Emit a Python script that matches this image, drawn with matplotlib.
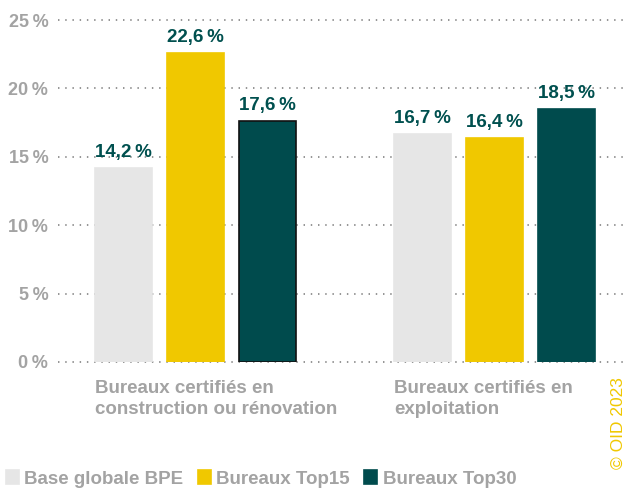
import matplotlib.pyplot as plt
import numpy as np

plt.rcParams['font.family'] = ['Liberation Sans', 'DejaVu Sans']

# data
categories = ["Bureaux certifiés en\nconstruction ou rénovation",
              "Bureaux certifiés en\nexploitation"]
series_names = ["Base globale BPE", "Bureaux Top15", "Bureaux Top30"]
base_bpe = [14.2, 16.7]
top15 = [22.6, 16.4]
top30 = [17.6, 18.5]
yticks = [0, 5, 10, 15, 20, 25]

colors = ["#e6e6e6", "#f0c800", "#004b4d"]
label_col = "#00504f"
grey_txt = "#a3a3a3"
NS = "\u202f"  # narrow space before %

fig = plt.figure(figsize=(6.24, 4.92), dpi=100)
W, H = 624, 492
ax = fig.add_axes([58 / W, (H - 362) / H, 1 - 58 / W, 342 / H])
ax.set_xlim(-0.46, 1.433)
ax.set_ylim(0, 25)

# dotted grid
for t in yticks:
    ax.axhline(t, color="#8c8c8c", lw=1.3, ls=(0, (0.8, 3.2)), zorder=0, clip_on=False)

x = np.arange(len(categories))
width = 0.19
step = 0.24
series = [base_bpe, top15, top30]
for i, (vals, name, c) in enumerate(zip(series, series_names, colors)):
    pos = x + (i - 1) * step
    edge = "#111111" if i == 2 else c
    ax.bar(pos, vals, width, color=c, label=name, zorder=2,
           edgecolor=[edge, c], linewidth=1.2)
    for xp, v in zip(pos, vals):
        ax.text(xp, v + 0.5, f"{v:.1f}{NS}%".replace(".", ","), ha="center", va="bottom",
                fontsize=13.5, fontweight="bold", color=label_col)

for s in ax.spines.values():
    s.set_visible(False)
ax.set_xticks([])
ax.set_yticks(yticks)
ax.set_yticklabels([f"{t}{NS}%" for t in yticks], fontsize=13, fontweight="bold", color=grey_txt)
ax.tick_params(axis="y", length=0, pad=7)

# category labels, left aligned under first bar of each group
for xi, cat in zip(x, categories):
    ax.text(xi - step - width / 2, -1.3, cat, ha="left", va="top", fontsize=13.5,
            fontweight="bold", color=grey_txt, linespacing=1.3)

leg = fig.legend(loc="center left", bbox_to_anchor=(0.0, 1 - 479 / H), ncol=3, frameon=False,
                 handlelength=0.7, handleheight=0.7, handletextpad=0.3, columnspacing=0.75,
                 borderaxespad=0.0, borderpad=0.3, prop={"size": 13.5, "weight": "bold"},
                 labelcolor=grey_txt)
for h, c in zip(leg.legend_handles, colors):
    h.set_edgecolor(c)

fig.text(618 / W, 1 - 423 / H, "© OID 2023", rotation=90, ha="center", va="center",
         fontsize=12.5, color="#f0c800")

fig.savefig("out.png", dpi=100)
